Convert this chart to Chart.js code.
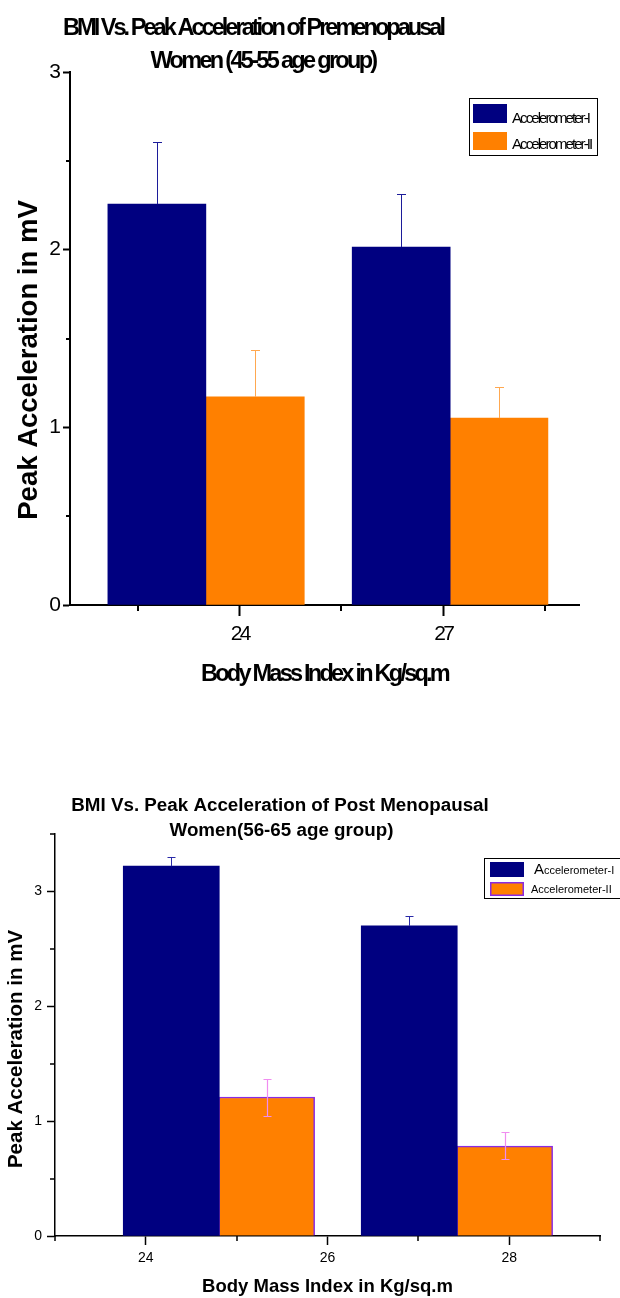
<!DOCTYPE html>
<html><head><meta charset="utf-8">
<script src="https://cdn.jsdelivr.net/npm/chart.js@4.4.1/dist/chart.umd.min.js"></script>
<style>
html,body{margin:0;padding:0;background:#fff;width:620px;height:1298px;overflow:hidden;}
canvas{position:absolute;left:0;display:block;}
#c1{top:0;}
#c2{top:760px;}
</style></head><body>
<canvas id="c1" width="620" height="700"></canvas>
<canvas id="c2" width="620" height="538"></canvas>
<script>
// ---------- data : chart 1 (premenopausal, 45-55) ----------
const preTitle = ['BMI Vs. Peak Acceleration of Premenopausal', 'Women (45-55 age group)'];
const preXTitle = 'Body Mass Index in Kg/sq.m';
const preYTitle = 'Peak Acceleration in mV';
const preXTicks = [24, 27];
const preXMinor = [22.5, 25.5, 28.5];
const preYTicks = [0, 1, 2, 3];
const preYMinor = [0.5, 1.5, 2.5];
const preXI = [22.78, 26.38];     // x value (BMI axis) of Accelerometer-I bars
const preXII = [24.23, 27.82];    // x value (BMI axis) of Accelerometer-II bars
const preAccI = [2.256, 2.015];
const preAccII = [1.171, 1.052];
const preErrI = [0.35, 0.298];
const preErrII = [0.264, 0.175];

// ---------- data : chart 2 (post menopausal, 56-65) ----------
const postTitle = ['BMI Vs. Peak Acceleration of Post Menopausal', 'Women(56-65 age group)'];
const postXTitle = 'Body Mass Index in Kg/sq.m';
const postYTitle = 'Peak Acceleration in mV';
const postXTicks = [24, 26, 28];
const postXMinor = [23, 25, 27, 29];
const postYTicks = [0, 1, 2, 3];
const postYMinor = [0.5, 1.5, 2.5, 3.5];
const postXI = [24.28, 26.90];
const postXII = [25.33, 27.95];
const postAccI = [3.22, 2.70];
const postAccII = [1.21, 0.783];
const postErrIUp = [0.08, 0.085];
const postErrIIUp = [0.156, 0.122];
const postErrIIDown = [0.166, 0.113];

const seriesNames = ['Accelerometer-I', 'Accelerometer-II'];

// ---------- fonts ----------
function narrowAvailable() {
  const c = document.createElement('canvas').getContext('2d');
  c.font = '40px monospace'; const a = c.measureText('Acceleration BMI').width;
  c.font = '40px "Liberation Sans Narrow", monospace'; const b = c.measureText('Acceleration BMI').width;
  return Math.abs(a - b) > 1;
}
const HAS_NARROW = narrowAvailable();
const NARROW = HAS_NARROW ? '"Liberation Sans Narrow", "Arial Narrow", sans-serif' : '"Liberation Sans", Arial, sans-serif';
const SANS = '"Liberation Sans", Arial, sans-serif';
// letter spacing that makes a text span a given width (the reference uses very tight tracking)
function fitTracking(font, text, target) {
  const c = document.createElement('canvas').getContext('2d');
  c.font = font;
  const w = c.measureText(text).width;
  return (target - w) / text.length;
}
const TITLE1_FONT = 'bold 23.5px ' + NARROW;
const TRACK_TITLE1 = [fitTracking(TITLE1_FONT, preTitle[0], 380), fitTracking(TITLE1_FONT, preTitle[1], 225)];
const TRACK1 = fitTracking('bold 23.5px ' + NARROW, preXTitle, 247);
const TRACK_LEG1 = fitTracking('15px ' + NARROW, seriesNames[0], 77);

// ---------- plugins ----------
function trackingPlugin(px) {
  return {
    id: 'tracking',
    beforeLayout(chart) { chart.ctx.letterSpacing = px + 'px'; },
    beforeDraw(chart) { chart.ctx.letterSpacing = px + 'px'; }
  };
}
const errorBars = {
  id: 'errorBars',
  afterDatasetsDraw(chart, args, o) {
    const ctx = chart.ctx, ys = chart.scales.y;
    ctx.save();
    chart.data.datasets.forEach((ds, i) => {
      const st = o.styles[i];
      const meta = chart.getDatasetMeta(i);
      meta.data.forEach((bar, j) => {
        const v = ds.data[j].y;
        const up = ds.errUp ? ds.errUp[j] : 0;
        const dn = ds.errDown ? ds.errDown[j] : 0;
        const x = Math.round(bar.x) + 0.5;
        const yt = ys.getPixelForValue(v + up);
        const yb = ys.getPixelForValue(v - dn);
        ctx.strokeStyle = st.color; ctx.lineWidth = st.width;
        ctx.beginPath();
        ctx.moveTo(x, yb); ctx.lineTo(x, yt);
        ctx.moveTo(x - st.cap / 2, Math.round(yt) + 0.5); ctx.lineTo(x + st.cap / 2, Math.round(yt) + 0.5);
        if (dn) { ctx.moveTo(x - st.cap / 2, Math.round(yb) + 0.5); ctx.lineTo(x + st.cap / 2, Math.round(yb) + 0.5); }
        ctx.stroke();
      });
    });
    ctx.restore();
  }
};
const minorTicks = {
  id: 'minorTicks',
  afterDraw(chart, args, o) {
    const ctx = chart.ctx, xs = chart.scales.x, ys = chart.scales.y;
    ctx.save();
    ctx.strokeStyle = '#000'; ctx.lineWidth = o.width;
    ctx.beginPath();
    o.xValues.forEach(v => { const px = Math.round(xs.getPixelForValue(v)); ctx.moveTo(px, xs.top); ctx.lineTo(px, xs.top + o.xLen); });
    o.yValues.forEach(v => { const py = Math.round(ys.getPixelForValue(v)); ctx.moveTo(ys.right, py); ctx.lineTo(ys.right - o.yLen, py); });
    ctx.stroke();
    ctx.restore();
  }
};
const titles = {
  id: 'titles',
  afterDraw(chart, args, o) {
    const ctx = chart.ctx;
    ctx.save();
    ctx.font = o.font; ctx.fillStyle = '#000';
    ctx.textAlign = 'center'; ctx.textBaseline = 'alphabetic';
    o.lines.forEach((t, i) => {
      ctx.letterSpacing = (o.tracking ? o.tracking[i] : 0) + 'px';
      ctx.fillText(t, o.x[i], o.baselines[i]);
    });
    // vertical axis title
    ctx.letterSpacing = '0px';
    ctx.font = o.yFont;
    ctx.translate(o.yBaselineX, o.yCenter);
    ctx.rotate(-Math.PI / 2);
    ctx.fillText(o.yText, 0, 0);
    ctx.restore();
  }
};
const boxLegend = {
  id: 'boxLegend',
  afterDraw(chart, args, o) {
    const ctx = chart.ctx;
    ctx.save();
    ctx.fillStyle = '#fff';
    ctx.fillRect(o.box[0], o.box[1], o.box[2], o.box[3]);
    ctx.lineWidth = 1; ctx.strokeStyle = '#000';
    ctx.strokeRect(o.box[0] + 0.5, o.box[1] + 0.5, o.box[2], o.box[3]);
    chart.data.datasets.forEach((ds, i) => {
      const s = o.swatches[i];
      ctx.fillStyle = ds.backgroundColor;
      ctx.fillRect(s[0], s[1], s[2], s[3]);
      if (o.swatchBorder && o.swatchBorder[i]) {
        ctx.strokeStyle = ds.borderColor; ctx.lineWidth = 1.5;
        ctx.strokeRect(s[0] + 0.75, s[1] + 0.75, s[2] - 1.5, s[3] - 1.5);
      }
      ctx.fillStyle = '#000';
      ctx.letterSpacing = o.tracking + 'px';
      ctx.textAlign = 'left'; ctx.textBaseline = 'alphabetic';
      let x = o.textX[i]; const y = o.baselines[i];
      let label = ds.label;
      if (o.bigFirst && o.bigFirst[i]) {
        ctx.font = o.bigFont; ctx.fillText(label[0], x, y);
        x += ctx.measureText(label[0]).width; label = label.slice(1);
      }
      ctx.font = o.font; ctx.fillText(label, x, y);
    });
    ctx.restore();
  }
};

const pts = (xs, ys) => xs.map((x, i) => ({ x: x, y: ys[i] }));

// ---------- chart 1 ----------
new Chart(document.getElementById('c1'), {
  type: 'bar',
  data: {
    datasets: [
      { label: seriesNames[0], data: pts(preXI, preAccI), backgroundColor: '#000080', borderWidth: 0, errUp: preErrI },
      { label: seriesNames[1], data: pts(preXII, preAccII), backgroundColor: '#ff8000', borderWidth: 0, errUp: preErrII }
    ]
  },
  options: {
    responsive: false, animation: false, devicePixelRatio: 1,
    layout: { padding: { left: 0, top: 72, right: 41, bottom: 0 } },
    datasets: { bar: { grouped: false, barThickness: 98 } },
    scales: {
      x: {
        type: 'linear', min: 21.5, max: 29, offset: false,
        afterBuildTicks: s => { s.ticks = preXTicks.map(v => ({ value: v })); },
        afterFit: s => { s.height = 95; },
        grid: { offset: false, drawOnChartArea: false, drawTicks: true, tickLength: 11, tickWidth: 2, tickColor: '#000' },
        border: { display: true, color: '#000', width: 2 },
        ticks: { color: '#000', padding: 6, autoSkip: false, maxRotation: 0, font: { family: NARROW, size: 21 } },
        title: { display: true, text: preXTitle, color: '#000', font: { family: NARROW, size: 23.5, weight: 'bold', lineHeight: 1.2 }, padding: { top: 0, bottom: 11 } }
      },
      y: {
        type: 'linear', min: 0, max: 3,
        afterBuildTicks: s => { s.ticks = preYTicks.map(v => ({ value: v })); },
        afterFit: s => { s.width = 70; },
        grid: { drawOnChartArea: false, drawTicks: true, tickLength: 7, tickWidth: 2, tickColor: '#000' },
        border: { display: true, color: '#000', width: 2 },
        ticks: { color: '#000', padding: 2 - Math.min(0, TRACK1), font: { family: NARROW, size: 21 } },
        title: { display: false }
      }
    },
    plugins: {
      legend: { display: false }, tooltip: { enabled: false },
      errorBars: { styles: [ { color: '#1c1c9a', width: 1, cap: 9 }, { color: '#ffa850', width: 1, cap: 9 } ] },
      minorTicks: { xValues: preXMinor, yValues: preYMinor, xLen: 6, yLen: 4, width: 2 },
      titles: {
        lines: preTitle, x: [253, 263], baselines: [35, 68], font: TITLE1_FONT, tracking: TRACK_TITLE1,
        yText: preYTitle, yFont: 'bold 27.5px ' + SANS, yBaselineX: 37, yCenter: 360
      },
      boxLegend: {
        box: [469, 98, 128, 57],
        swatches: [[473, 104, 34, 19], [473, 132, 34, 18]],
        textX: [512, 512], baselines: [123, 149],
        font: '15px ' + NARROW, tracking: TRACK_LEG1
      }
    }
  },
  plugins: [trackingPlugin(TRACK1), errorBars, minorTicks, titles, boxLegend]
});

// ---------- chart 2 ----------
new Chart(document.getElementById('c2'), {
  type: 'bar',
  data: {
    datasets: [
      { label: seriesNames[0], data: pts(postXI, postAccI), backgroundColor: '#000080', borderWidth: 0, errUp: postErrIUp },
      { label: seriesNames[1], data: pts(postXII, postAccII), backgroundColor: '#ff8000', borderColor: '#8a2be2', borderWidth: 1.5, errUp: postErrIIUp, errDown: postErrIIDown }
    ]
  },
  options: {
    responsive: false, animation: false, devicePixelRatio: 1,
    layout: { padding: { left: 0, top: 74, right: 20, bottom: 0 } },
    datasets: { bar: { grouped: false, barThickness: 96 } },
    scales: {
      x: {
        type: 'linear', min: 23, max: 29, offset: false,
        afterBuildTicks: s => { s.ticks = postXTicks.map(v => ({ value: v })); },
        afterFit: s => { s.height = 62; },
        grid: { offset: false, drawOnChartArea: false, drawTicks: true, tickLength: 9, tickWidth: 1.5, tickColor: '#000' },
        border: { display: true, color: '#000', width: 1.5 },
        ticks: { color: '#000', padding: 5, autoSkip: false, maxRotation: 0, font: { family: SANS, size: 14 } },
        title: { display: true, text: postXTitle, color: '#000', font: { family: SANS, size: 18.5, weight: 'bold', lineHeight: 1.2 }, padding: { top: 0, bottom: 0 } }
      },
      y: {
        type: 'linear', min: 0, max: 3.5,
        afterBuildTicks: s => { s.ticks = postYTicks.map(v => ({ value: v })); },
        afterFit: s => { s.width = 55; },
        grid: { drawOnChartArea: false, drawTicks: true, tickLength: 8, tickWidth: 1.5, tickColor: '#000' },
        border: { display: true, color: '#000', width: 1.5 },
        ticks: { color: '#000', padding: 5, font: { family: SANS, size: 14 } },
        title: { display: false }
      }
    },
    plugins: {
      legend: { display: false }, tooltip: { enabled: false },
      errorBars: { styles: [ { color: '#2a2aa8', width: 1, cap: 8 }, { color: '#f08cf0', width: 1.2, cap: 8 } ] },
      minorTicks: { xValues: postXMinor, yValues: postYMinor, xLen: 5, yLen: 5, width: 1.5 },
      titles: {
        lines: postTitle, x: [280, 281.5], baselines: [51, 76], font: 'bold 18.8px ' + SANS,
        yText: postYTitle, yFont: 'bold 20.5px ' + SANS, yBaselineX: 22, yCenter: 289
      },
      boxLegend: {
        box: [484, 98, 140, 40],
        swatches: [[490, 102, 34, 15], [490, 122, 34, 14]],
        swatchBorder: [false, true],
        textX: [534, 531], baselines: [114, 133],
        font: '11px ' + SANS, bigFont: '15px ' + SANS, bigFirst: [true, false], tracking: 0
      }
    }
  },
  plugins: [errorBars, minorTicks, titles, boxLegend]
});
</script>
</body></html>
